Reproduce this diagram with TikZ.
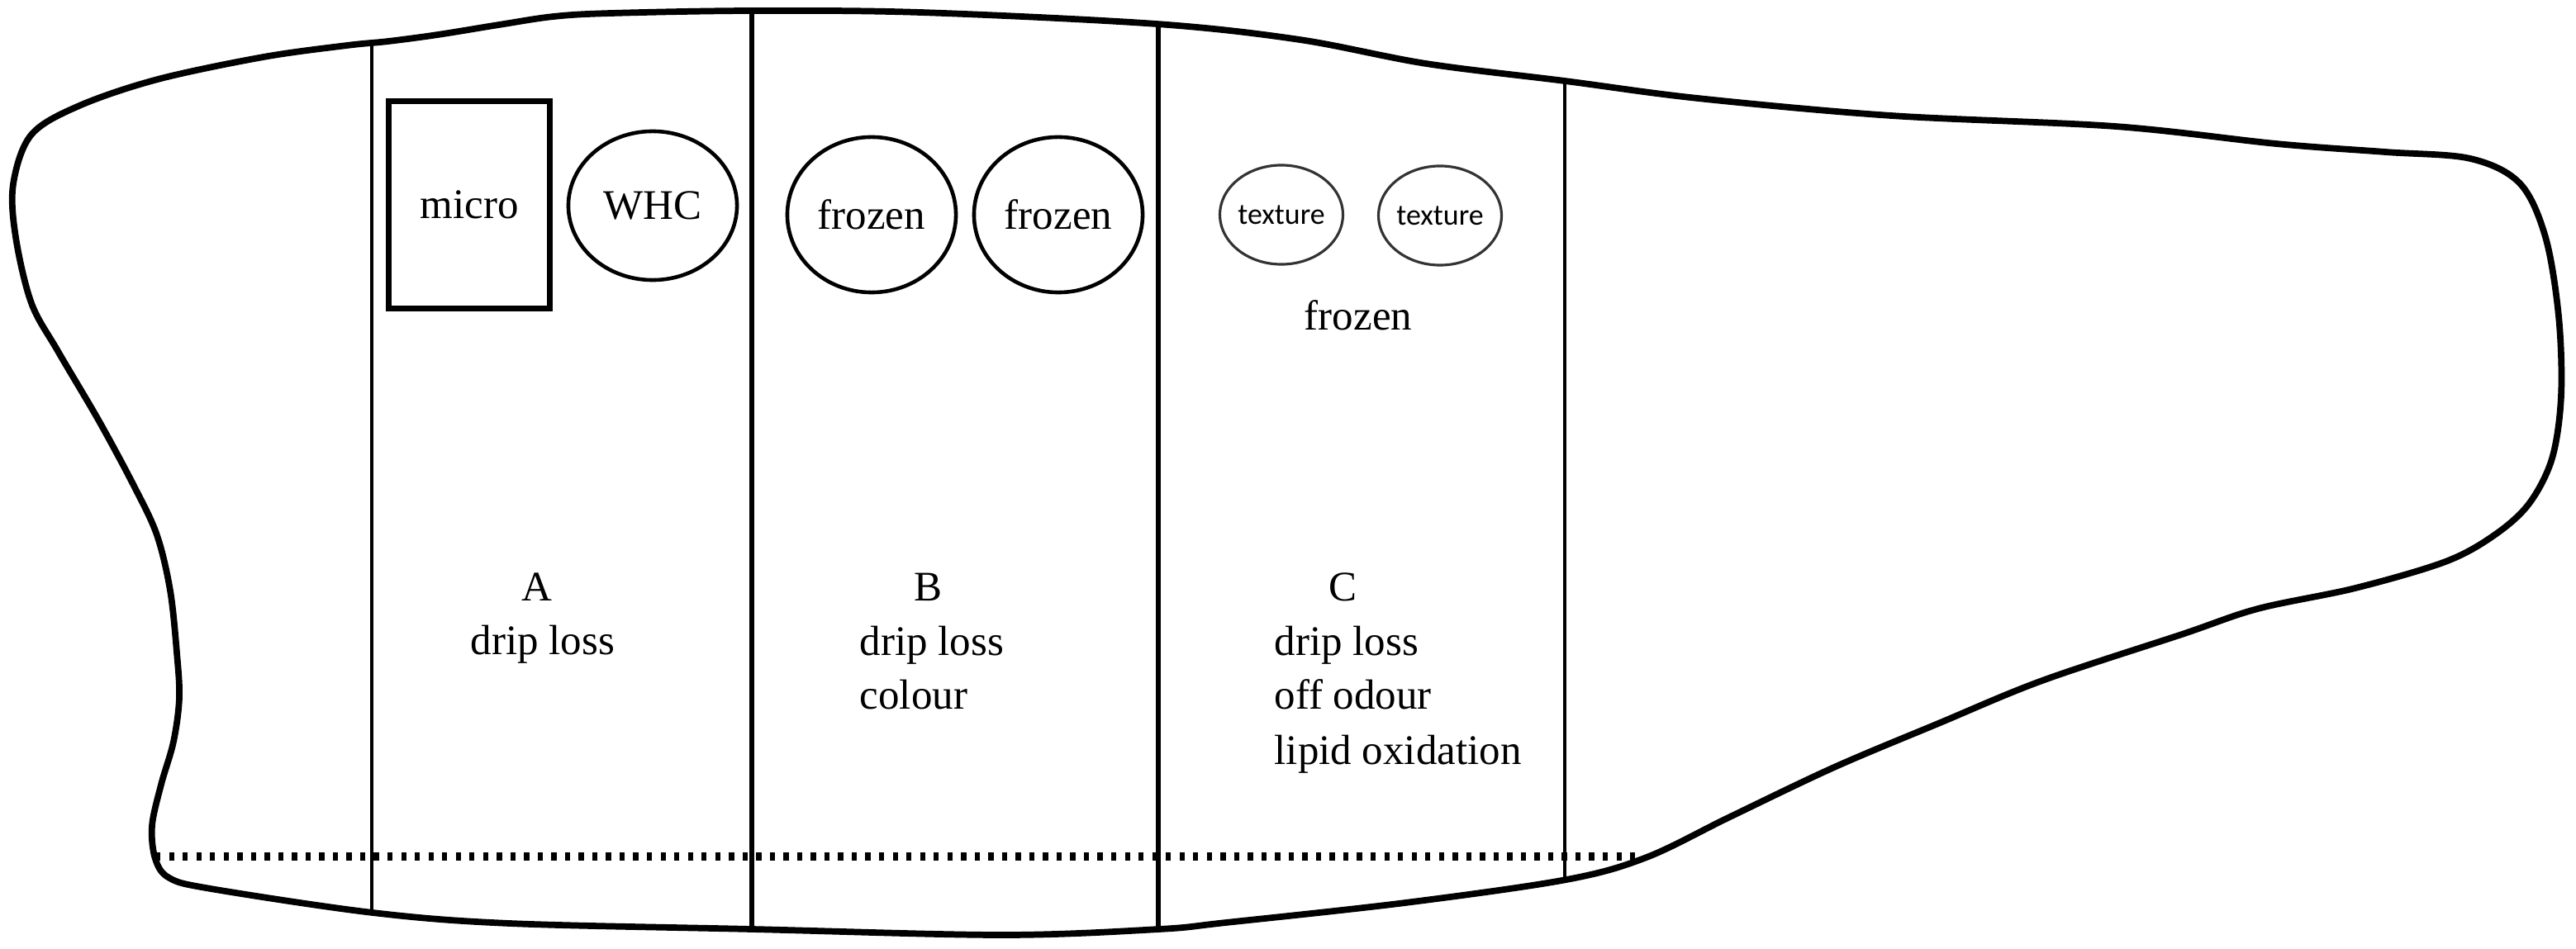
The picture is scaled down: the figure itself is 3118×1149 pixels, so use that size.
\documentclass[tikz,border=0pt]{standalone}
\usepackage{fontspec}
\setmainfont{Liberation Serif}
\newfontfamily\texturefont{Carlito}
\usetikzlibrary{shapes.geometric}
\begin{document}
\begin{tikzpicture}[x=0.01cm,y=-0.01cm,
  outline/.style={line width=2.2pt, line join=round},
  divider/.style={line width=1.4pt},
  thickdivider/.style={line width=1.8pt},
  dottedline/.style={line width=2.8pt, dash pattern=on 1.8pt off 2.9pt},
  bigtext/.style={font=\fontsize{14.5}{18.5}\selectfont, inner sep=0pt},
  lbl/.style={bigtext, anchor=base},
  linelbl/.style={bigtext, anchor=base west},
  microbox/.style={draw, line width=2pt, rectangle, minimum width=1.94cm, minimum height=2.51cm, inner sep=0pt, bigtext},
  bigoval/.style={draw, line width=1.3pt, ellipse, inner sep=0pt, bigtext},
  smalloval/.style={draw=black!80, line width=0.9pt, ellipse, minimum width=1.30cm, minimum height=1.20cm, inner sep=0pt, font=\texturefont\fontsize{10.2}{12}\selectfont}
]
\useasboundingbox (0,0) rectangle (3118,1149);

% outline of the cut
\draw[outline] plot[smooth cycle, tension=0.55] coordinates {
 (16,223) (38,163) (96,128) (191,96) (319,69) (420,55) (470,50) (530,42)
 (604,30) (670,20) (740,16) (910,13) (1114,15) (1400,29) (1573,48)
 (1726,77) (1894,98)
 (2055,119) (2289,140) (2560,153) (2755,174) (2887,184) (2990,192)
 (3050,222) (3081,287) (3097,383) (3100,479) (3089,555) (3061,610)
 (3019,648) (2960,680) (2851,712) (2733,737) (2641,768) (2472,824)
 (2346,876) (2220,929) (2094,989) (1993,1038) (1896,1065) (1701,1093)
 (1484,1117) (1403,1125) (1213,1132) (910,1125) (617,1118) (451,1105)
 (255,1076) (205,1063) (188,1040) (184,1000) (195,950) (210,898)
 (217,845) (214,790) (206,715) (190,648) (163,590) (120,510) (70,425)
 (38,367) (19,287)};

% dividers
\coordinate (d1t) at (450,52);   \coordinate (d1b) at (450,1105);
\coordinate (d2t) at (910,13);   \coordinate (d2b) at (910,1125);
\coordinate (d3t) at (1402,29);  \coordinate (d3b) at (1402,1125);
\coordinate (d4t) at (1894,98);  \coordinate (d4b) at (1894,1065);
\draw[divider] (d1t) -- (d1b);
\draw[thickdivider] (d2t) -- (d2b);
\draw[thickdivider] (d3t) -- (d3b);
\draw[divider] (d4t) -- (d4b);

% dotted line
\coordinate (dotL) at (188,1037);
\coordinate (dotR) at (1985,1037);
\draw[dottedline] (dotL) -- (dotR);

% section A
\node[microbox] (micro) at (568,248) {micro};
\node[bigoval, minimum width=2.04cm, minimum height=1.80cm] (whc) at (790,249) {WHC};
\node[lbl] (labA) at (650,727) {A};
\node[lbl] (dripA) at (657,792) {drip loss};

% section B
\node[bigoval, minimum width=2.04cm, minimum height=1.88cm] (frozen1) at (1055,260) {frozen};
\node[bigoval, minimum width=2.04cm, minimum height=1.88cm] (frozen2) at (1281,260) {frozen};
\node[lbl] (labB) at (1123,727) {B};
\node[linelbl] (dripB) at (1040,793) {drip loss};
\node[linelbl] (colourB) at (1040,858) {colour};

% section C
\node[smalloval] (tex1) at (1551,260) {texture};
\node[smalloval] (tex2) at (1743,261) {texture};
\node[lbl] (frozenC) at (1644,400) {frozen};
\node[lbl] (labC) at (1625,727) {C};
\node[linelbl] (dripC) at (1542,793) {drip loss};
\node[linelbl] (odourC) at (1542,858) {off odour};
\node[linelbl] (lipidC) at (1542,925) {lipid oxidation};
\end{tikzpicture}
\end{document}
